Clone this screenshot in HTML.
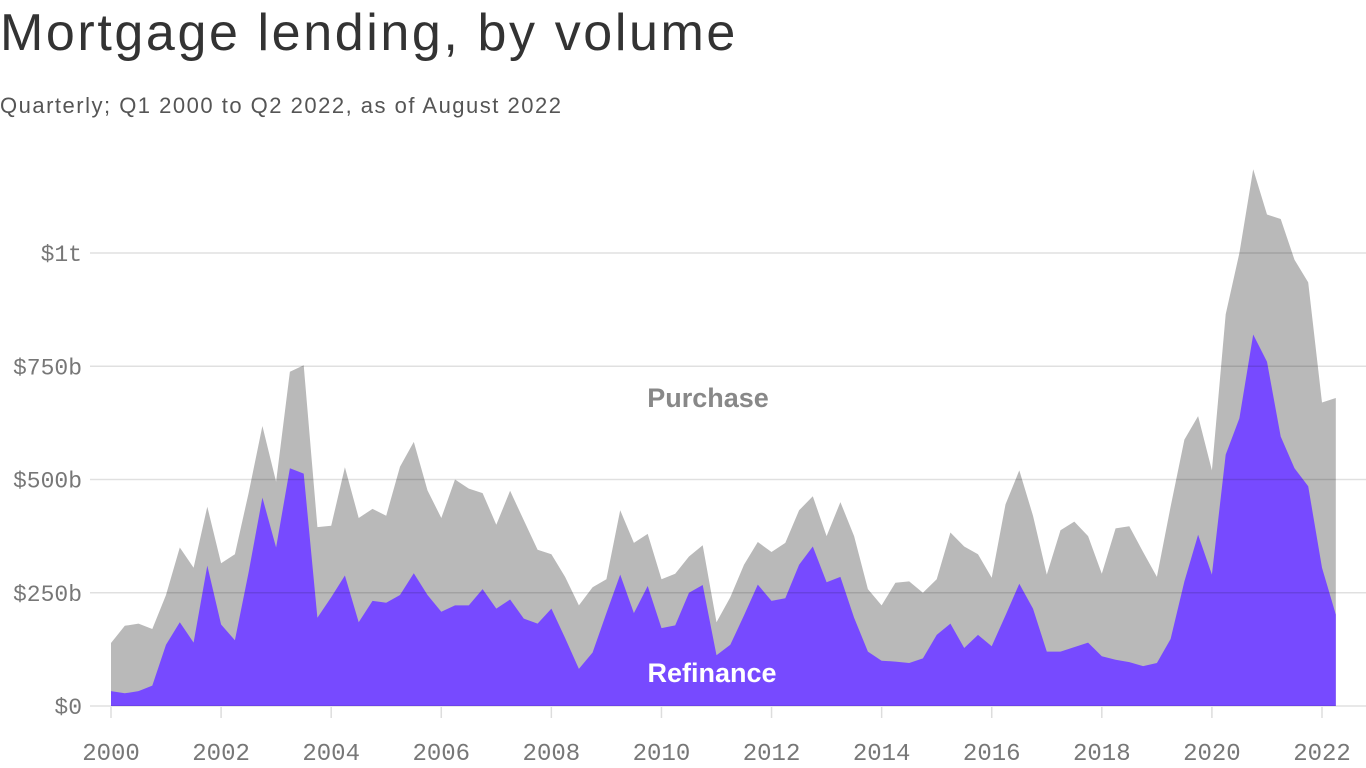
<!DOCTYPE html>
<html><head><meta charset="utf-8"><style>
body{margin:0;background:#fff;width:1366px;height:768px;overflow:hidden;font-family:"Liberation Sans",sans-serif}
#title{position:absolute;left:0;top:3px;font-size:52px;color:#333;letter-spacing:2.6px}
#sub{position:absolute;left:0;top:93px;font-size:22px;color:#555;letter-spacing:1.5px}
svg{position:absolute;left:0;top:0}
</style></head><body>
<div id="title">Mortgage lending, by volume</div>
<div id="sub">Quarterly; Q1 2000 to Q2 2022, as of August 2022</div>
<svg id="chart" width="1366" height="768"></svg>
<script>
const totalValues=[139,177,182,170,245,350,305,440,315,335,470,618,495,738,752,395,398,527,415,435,420,528,583,476,415,500,480,470,400,475,410,345,335,285,222,262,280,432,360,380,280,292,330,355,185,240,312,362,340,360,432,463,375,450,375,258,222,272,275,250,280,383,352,335,283,445,520,420,290,388,407,375,292,392,397,340,285,440,588,640,520,865,1000,1185,1085,1075,985,935,670,680];
const refinanceValues=[33,28,33,45,135,185,140,310,180,145,295,460,350,525,513,195,240,288,185,232,228,245,293,245,208,222,222,258,215,235,193,182,215,150,82,118,205,290,205,265,172,178,250,267,112,135,200,268,232,238,312,352,273,285,195,120,100,98,95,105,157,182,128,157,132,200,270,215,120,120,130,140,110,102,97,88,95,148,275,378,290,555,635,820,760,595,525,485,305,202];
const yTicks=[0,250,500,750,1000];
const yTickLabels=["$0","$250b","$500b","$750b","$1t"];
const xYears=[2000,2002,2004,2006,2008,2010,2012,2014,2016,2018,2020,2022];
const NS="http://www.w3.org/2000/svg";
const svg=document.getElementById('chart');
const xq=i=>111+i*(1211/88);
const xy=yr=>111+(yr-2000)*(1211/22);
const y=v=>706-v*0.453;
function mk(t,a){const e=document.createElementNS(NS,t);for(const k in a)e.setAttribute(k,a[k]);svg.appendChild(e);return e;}
function area(vals){let d='M'+xq(0)+','+y(0);vals.forEach((v,i)=>d+='L'+xq(i).toFixed(1)+','+y(v).toFixed(1));d+='L'+xq(vals.length-1).toFixed(1)+','+y(0)+'Z';return d;}
const p1=mk('path',{d:area(totalValues),fill:'#b9b9b9'});


const p2=mk('path',{d:area(refinanceValues),fill:'#774aff'});


yTicks.forEach((v,i)=>{
 const g=mk('line',{x1:90,x2:1366,y1:y(v),y2:y(v),stroke:'rgba(0,0,0,0.12)','stroke-width':1.5});
 
 
 const t=mk('text',{x:82,y:y(v)+8,'text-anchor':'end','font-family':'Liberation Mono, monospace','font-size':23,fill:'#777'});
 t.textContent=yTickLabels[i];
 
 
});
xYears.forEach(yr=>{
 const l=mk('line',{x1:xy(yr),x2:xy(yr),y1:707,y2:718,stroke:'#ddd','stroke-width':1.5});
 
 
 const t=mk('text',{x:xy(yr),y:760,'text-anchor':'middle','font-family':'Liberation Mono, monospace','font-size':24,fill:'#777'});
 t.textContent=yr;
 
 
});
const a=mk('text',{x:708,y:407,'text-anchor':'middle','font-size':27,'font-weight':'bold',fill:'#888'});
a.textContent='Purchase';


const b=mk('text',{x:712,y:682,'text-anchor':'middle','font-size':27,'font-weight':'bold',fill:'#fff'});
b.textContent='Refinance';


</script>
</body></html>
